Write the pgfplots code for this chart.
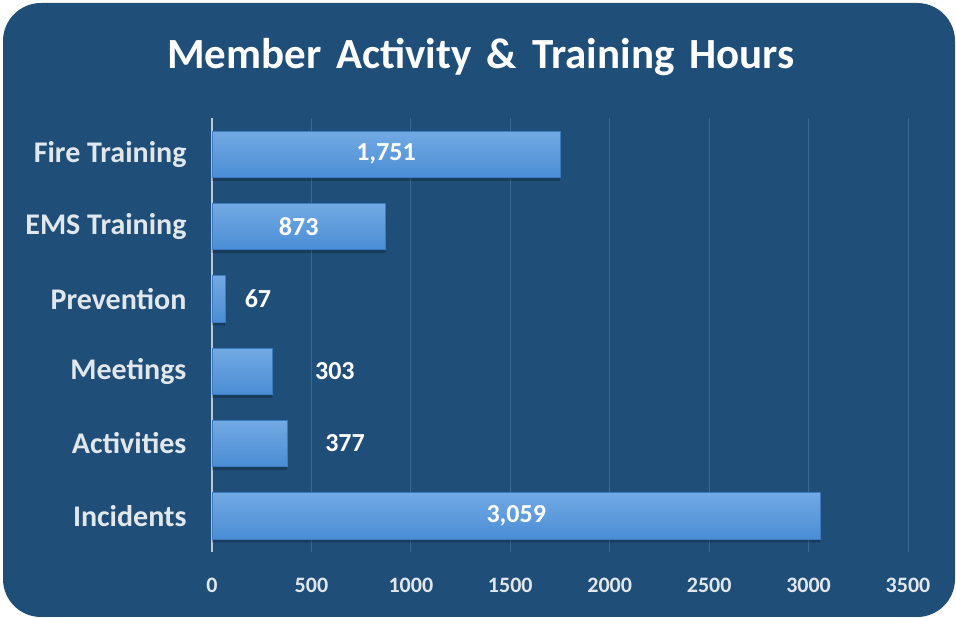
\documentclass[border=0pt]{standalone}
\usepackage{fontspec}
\setmainfont{Carlito}
\usepackage{pgfplots}
\pgfplotsset{compat=1.18}
\definecolor{bg}{HTML}{1F4E79}
\definecolor{gridc}{HTML}{3C6893}
\definecolor{lab}{HTML}{E2E7EC}
\definecolor{bartop}{HTML}{72AAE3}
\definecolor{barbot}{HTML}{4A8DD5}
\definecolor{baredge}{HTML}{3D7BC0}
\begin{document}
\begin{tikzpicture}[x=1pt,y=1pt]
\fill[white] (0,0) rectangle (956,618);
\fill[bg, rounded corners=38pt] (3,1) rectangle (955,615);
\node[text=white] at (481,561) {\fontsize{43}{50}\selectfont\bfseries Member\hspace{0.35em}Activity\hspace{0.35em}\&\hspace{0.35em}Training\hspace{0.35em}Hours};
\begin{axis}[
  at={(212pt,66pt)}, anchor=south west,
  scale only axis, width=696pt, height=434pt,
  xmin=0, xmax=3500, ymin=-0.5, ymax=5.5,
  xtick={0,500,...,3500},
  ytick={0,1,2,3,4,5},
  yticklabels={Incidents,Activities,Meetings,Prevention,EMS Training,Fire Training},
  axis line style={draw=none},
  major tick length=0pt,
  xmajorgrids, grid style={gridc, line width=1pt},
  /pgf/number format/assume math mode=true,
  /pgf/number format/1000 sep={},
  xticklabel style={font=\fontsize{22}{26}\selectfont\bfseries, text=lab, yshift=-23pt},
  yticklabel style={font=\fontsize{30}{34}\selectfont\bfseries, text=lab, xshift=-22pt},
  clip=false,
  barsty/.style={xbar, bar width=0.64, bar shift=0pt, draw=baredge, line width=0.6pt,
    top color=bartop, bottom color=barbot, forget plot},
]
\draw[lab!80!bg, line width=1.2pt] (axis cs:0,-0.5) -- (axis cs:0,5.5);
% shadow layer
\addplot[xbar, bar width=0.64, bar shift=-3.5pt, fill=black, fill opacity=0.22, draw=none, forget plot]
  coordinates {(1751,5) (873,4) (67,3) (303,2) (377,1) (3059,0)};
\addplot[barsty] coordinates {(1751,5)};
\addplot[barsty] coordinates {(873,4)};
\addplot[barsty] coordinates {(67,3)};
\addplot[barsty] coordinates {(303,2)};
\addplot[barsty] coordinates {(377,1)};
\addplot[barsty] coordinates {(3059,0)};
\addplot[draw=none, mark=none, forget plot, nodes near coords, point meta=explicit symbolic,
  nodes near coords align=center,
  every node near coord/.append style={font=\fontsize{26}{30}\selectfont\bfseries, text=white, anchor=center}]
  table[meta=label] {
x y label
875 5 {1,751}
436 4 873
231 3 67
618 2 303
669 1 377
1530 0 {3,059}
};
\end{axis}
\end{tikzpicture}
\end{document}
